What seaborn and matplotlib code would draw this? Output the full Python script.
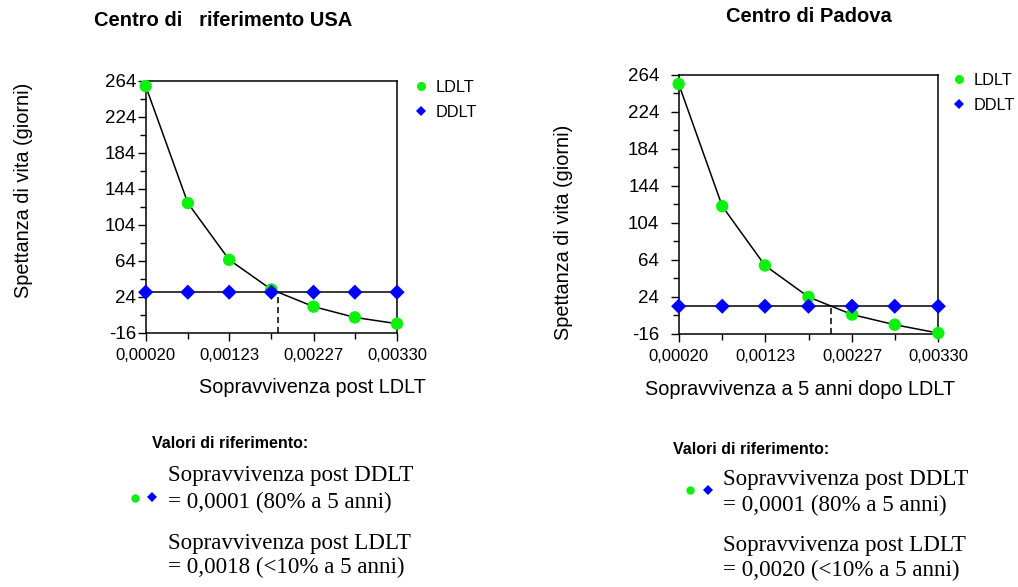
import numpy as np
import pandas as pd
import matplotlib
matplotlib.use("Agg")
import matplotlib.pyplot as plt
from matplotlib.lines import Line2D
from matplotlib.ticker import FixedLocator
import seaborn as sns

# ---------------- data ----------------
SURVIVAL_X = [0.00020, 0.00072, 0.00123, 0.00175, 0.00227, 0.00278, 0.00330]
X_TICK_LABELS = ["0,00020", "0,00123", "0,00227", "0,00330"]
Y_TICKS = [-16, 24, 64, 104, 144, 184, 224, 264]

USA_LDLT = [258, 128, 65, 32, 13, 1, -6]
USA_DDLT = [29, 29, 29, 29, 29, 29, 29]

PADOVA_LDLT = [254, 122, 58, 24, 5, -6, -15]
PADOVA_DDLT = [14, 14, 14, 14, 14, 14, 14]

TITLES = ["Centro di   riferimento USA", "Centro di Padova"]
XLABELS = ["Sopravvivenza post LDLT", "Sopravvivenza a 5 anni dopo LDLT"]
YLABEL = "Spettanza di vita (giorni)"
REF_HEADER = "Valori di riferimento:"
REF_DDLT = ["Sopravvivenza post DDLT", "= 0,0001 (80% a 5 anni)"]
REF_LDLT_USA = ["Sopravvivenza post LDLT", "= 0,0018 (<10% a 5 anni)"]
REF_LDLT_PD = ["Sopravvivenza post LDLT", "= 0,0020 (<10% a 5 anni)"]

GREEN = "#0ef00e"
BLUE = "#0000ff"

sns.set_theme(style="ticks")
plt.rcParams["font.family"] = ["Liberation Sans", "DejaVu Sans"]

W, H = 1018, 587
fig = plt.figure(figsize=(W / 100, H / 100), dpi=100)


def fx(px):
    return px / W


def fy(py):
    return 1 - py / H


def make_axes(x0, x1, y0, y1):
    return fig.add_axes([fx(x0), fy(y1), fx(x1) - fx(x0), (y1 - y0) / H])


def crossing(xs, ldlt, ddlt):
    diff = np.array(ldlt, float) - np.array(ddlt, float)
    for i in range(len(diff) - 1):
        if diff[i] >= 0 and diff[i + 1] < 0:
            t = diff[i] / (diff[i] - diff[i + 1])
            return xs[i] + t * (xs[i + 1] - xs[i]), ddlt[i] + t * (ddlt[i + 1] - ddlt[i])
    return None


def draw_panel(ax, ldlt, ddlt, ytick_pad):
    df = pd.DataFrame({"x": SURVIVAL_X, "LDLT": ldlt, "DDLT": ddlt})
    sns.lineplot(data=df, x="x", y="LDLT", ax=ax, color="black", lw=1.1,
                 estimator=None, sort=False)
    sns.lineplot(data=df, x="x", y="DDLT", ax=ax, color="black", lw=1.1,
                 estimator=None, sort=False)
    sns.scatterplot(data=df, x="x", y="LDLT", ax=ax, color=GREEN, marker="o",
                    s=80, edgecolor="none", clip_on=False, zorder=4)
    sns.scatterplot(data=df, x="x", y="DDLT", ax=ax, color=BLUE, marker="D",
                    s=60, edgecolor="none", clip_on=False, zorder=5)
    cx, cy = crossing(SURVIVAL_X, ldlt, ddlt)
    ax.plot([cx, cx], [Y_TICKS[0], cy], color="black", lw=1.1, ls=(0, (4, 2.5)))

    ax.set_xlim(SURVIVAL_X[0], SURVIVAL_X[-1])
    ax.set_ylim(Y_TICKS[0], Y_TICKS[-1])
    ax.set_xticks(SURVIVAL_X[::2])
    ax.set_xticklabels(X_TICK_LABELS)
    ax.xaxis.set_minor_locator(FixedLocator(SURVIVAL_X[1::2]))
    ax.set_yticks(Y_TICKS)
    ax.set_yticklabels([str(v) for v in Y_TICKS])
    ax.yaxis.set_minor_locator(FixedLocator([v + 20 for v in Y_TICKS[:-1]]))
    ax.tick_params(axis="both", which="major", direction="out", length=6,
                   width=1, color="black", labelcolor="black")
    ax.tick_params(axis="both", which="minor", direction="out", length=4,
                   width=1, color="black")
    ax.tick_params(axis="x", labelsize=12, pad=5)
    ax.tick_params(axis="y", labelsize=13.5, pad=ytick_pad)
    for sp in ax.spines.values():
        sp.set_visible(True)
        sp.set_color("black")
        sp.set_linewidth(1.1)
    ax.set_facecolor("white")


# ---- left panel ----
axL = make_axes(145.7, 397, 80.7, 332.7)
draw_panel(axL, USA_LDLT, USA_DDLT, ytick_pad=1)
axL.set_xlabel(XLABELS[0], fontsize=14.3, color="black")
axL.xaxis.set_label_coords((312 - 145.7) / 251.3, (332.7 - 378) / 252)
axL.set_ylabel(YLABEL, fontsize=14.3, color="black")
axL.yaxis.set_label_coords((33 - 145.7) / 251.3, (332.7 - 190) / 252)

# ---- right panel ----
axR = make_axes(678.7, 938.3, 74.7, 334)
draw_panel(axR, PADOVA_LDLT, PADOVA_DDLT, ytick_pad=8)
axR.set_xlabel(XLABELS[1], fontsize=14.3, color="black")
axR.xaxis.set_label_coords((800 - 678.7) / 259.6, (334 - 380) / 259.3)
axR.set_ylabel(YLABEL, fontsize=14.3, color="black")
axR.yaxis.set_label_coords((573 - 678.7) / 259.6, (334 - 232) / 259.3)

# ---- titles ----
fig.text(fx(223), fy(21), TITLES[0], ha="center", va="center",
         fontsize=14.5, fontweight="bold", color="black")
fig.text(fx(809), fy(17), TITLES[1], ha="center", va="center",
         fontsize=14.5, fontweight="bold", color="black")

# ---- legends ----
handles = [
    Line2D([], [], ls="none", marker="o", color=GREEN, markersize=6.5, markeredgewidth=0),
    Line2D([], [], ls="none", marker="D", color=BLUE, markersize=5.5, markeredgewidth=0),
]
for ax, (lx, ly) in [(axL, (413, 80)), (axR, (951, 73))]:
    ax.legend(handles, ["LDLT", "DDLT"], loc="upper left",
              bbox_to_anchor=(fx(lx), fy(ly)), bbox_transform=fig.transFigure,
              frameon=False, fontsize=11.8, handlelength=1.0, handletextpad=0.4,
              borderpad=0, borderaxespad=0, labelspacing=0.62, labelcolor="black")

# ---- reference blocks ----
serif = ["Liberation Serif", "DejaVu Serif"]
blocks = [
    dict(hx=152, hy=444, tx=168, lines=[475, 502, 543, 567], gm=(135, 498), bm=(152, 497),
         texts=REF_DDLT + REF_LDLT_USA),
    dict(hx=673, hy=449, tx=723, lines=[479, 505, 546, 570], gm=(690, 490), bm=(708, 490),
         texts=REF_DDLT + REF_LDLT_PD),
]
for b in blocks:
    fig.text(fx(b["hx"]), fy(b["hy"]), REF_HEADER, ha="left", va="center",
             fontsize=11.5, fontweight="bold", color="black")
    for y, t in zip(b["lines"], b["texts"]):
        fig.text(fx(b["tx"]), fy(y), t, ha="left", va="center", fontsize=16.6,
                 family=serif, color="black")
    fig.add_artist(Line2D([fx(b["gm"][0])], [fy(b["gm"][1])], transform=fig.transFigure,
                          ls="none", marker="o", color=GREEN, markersize=6, markeredgewidth=0))
    fig.add_artist(Line2D([fx(b["bm"][0])], [fy(b["bm"][1])], transform=fig.transFigure,
                          ls="none", marker="D", color=BLUE, markersize=5.5, markeredgewidth=0))

fig.savefig("out.png", dpi=100, facecolor="white")
